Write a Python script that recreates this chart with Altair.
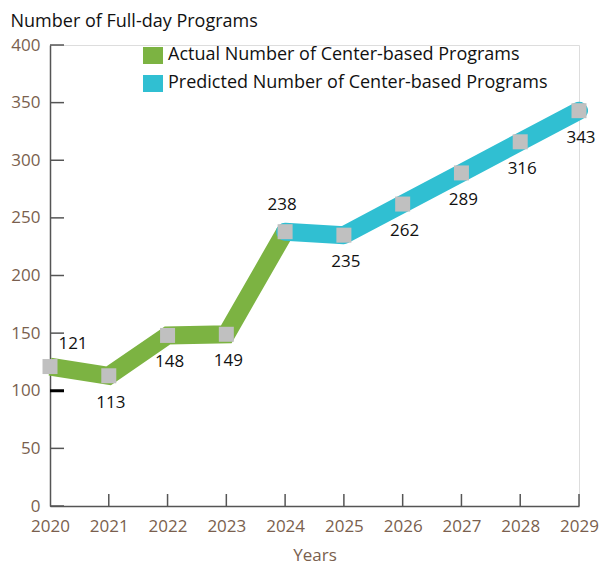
import altair as alt
import pandas as pd

years = [2020, 2021, 2022, 2023, 2024, 2025, 2026, 2027, 2028, 2029]
values = [121, 113, 148, 149, 238, 235, 262, 289, 316, 343]
actual_years = [2020, 2021, 2022, 2023, 2024]
predicted_years = [2024, 2025, 2026, 2027, 2028, 2029]
series_names = ["Actual Number of Center-based Programs", "Predicted Number of Center-based Programs"]
series_colors = ["#7cb342", "#30bfd2"]
y_ticks = [0, 50, 100, 150, 200, 250, 300, 350, 400]
x_ticks = years

val = dict(zip(years, values))
rows = []
for y in actual_years:
    rows.append({"year": y, "value": val[y], "series": series_names[0]})
for y in predicted_years:
    rows.append({"year": y, "value": val[y], "series": series_names[1]})
lines_df = pd.DataFrame(rows)
pts_df = pd.DataFrame({"year": years, "value": values})
yt_df = pd.DataFrame({"t": y_ticks})
xt_df = pd.DataFrame({"t": x_ticks[1:]})

FONT = "Open Sans"
BROWN = "#7a5f4e"
W, H = 529, 461

xs = alt.Scale(domain=[2020, 2029], nice=False, zero=False)
ys = alt.Scale(domain=[0, 400], nice=False)
color_scale = alt.Scale(domain=series_names, range=series_colors)

x_enc = alt.X("year:Q", scale=xs,
              axis=alt.Axis(values=x_ticks, format="d", ticks=False, labelFontSize=17,
                            labelColor=BROWN, labelFont=FONT, labelPadding=12,
                            labelFlush=False, labelOverlap=False,
                            domainColor="#555555", domainWidth=1.5,
                            grid=False, title="Years", titleFont=FONT, titleFontSize=17,
                            titleFontWeight="normal", titleColor=BROWN, titlePadding=13))
y_enc = alt.Y("value:Q", scale=ys,
              axis=alt.Axis(values=y_ticks, ticks=False, labelFontSize=17, labelColor=BROWN,
                            labelFont=FONT, labelPadding=10, labelFlush=False,
                            domainColor="#555555",
                            domainWidth=1.5, grid=False,
                            title="Number of Full-day Programs", titleAngle=0,
                            titleAlign="left", titleBaseline="alphabetic",
                            titleX=-40, titleY=-19, titleFont=FONT, titleFontSize=18,
                            titleFontWeight="normal", titleColor="#111111"))

base_line = alt.Chart(lines_df)

green = base_line.transform_filter(alt.datum.series == series_names[0]).mark_line(
    strokeWidth=18, strokeCap="butt", strokeJoin="miter").encode(
    x=x_enc, y=y_enc,
    color=alt.Color("series:N", scale=color_scale,
                    legend=alt.Legend(orient="none", legendX=93, legendY=2, title=None,
                                      symbolType="square", symbolSize=100,
                                      symbolStrokeWidth=10, labelFontSize=18,
                                      labelFont=FONT, labelColor="#111111",
                                      labelOffset=5, rowPadding=10, padding=0,
                                      clipHeight=16, labelLimit=500)),
    order="year:Q")

cyan = base_line.transform_filter(alt.datum.series == series_names[1]).mark_line(
    strokeWidth=18, strokeCap="round", strokeJoin="round").encode(
    x="year:Q", y="value:Q",
    color=alt.Color("series:N", scale=color_scale),
    order="year:Q")

points = alt.Chart(pts_df).mark_square(size=225, color="#c0c0c0", opacity=1).encode(
    x="year:Q", y="value:Q")

above_first = alt.Chart(pts_df).transform_filter(alt.datum.year == 2020).mark_text(
    font=FONT, fontSize=17, color="#111111", dx=23, dy=-23).encode(
    x="year:Q", y="value:Q", text="value:Q")
above_mid = alt.Chart(pts_df).transform_filter(alt.datum.year == 2024).mark_text(
    font=FONT, fontSize=17, color="#111111", dx=-3, dy=-27).encode(
    x="year:Q", y="value:Q", text="value:Q")
below = alt.Chart(pts_df).transform_filter(
    (alt.datum.year != 2020) & (alt.datum.year != 2024)).mark_text(
    font=FONT, fontSize=17, color="#111111", dx=2, dy=27).encode(
    x="year:Q", y="value:Q", text="value:Q")

ytick = alt.Chart(yt_df).mark_rule(color="#555555", strokeWidth=1.5).encode(
    y=alt.Y("t:Q", scale=ys), x=alt.value(0), x2=alt.value(14))
ytick_bold = alt.Chart(yt_df).transform_filter(alt.datum.t == 100).mark_rule(
    color="#000000", strokeWidth=3).encode(
    y=alt.Y("t:Q", scale=ys), x=alt.value(0), x2=alt.value(14))
xtick = alt.Chart(xt_df).mark_rule(color="#555555", strokeWidth=1.5).encode(
    x=alt.X("t:Q", scale=xs), y=alt.value(H - 12), y2=alt.value(H))

chart = alt.layer(green, cyan, points, above_first, above_mid, below, ytick, ytick_bold, xtick).properties(
    width=W, height=H,
    autosize=alt.AutoSizeParams(type="none"),
    padding={"left": 50, "top": 45, "right": 34, "bottom": 61},
).configure_view(stroke=None).configure(background="white")

chart.save("out.html", embed_options={"renderer": "svg", "actions": False})
